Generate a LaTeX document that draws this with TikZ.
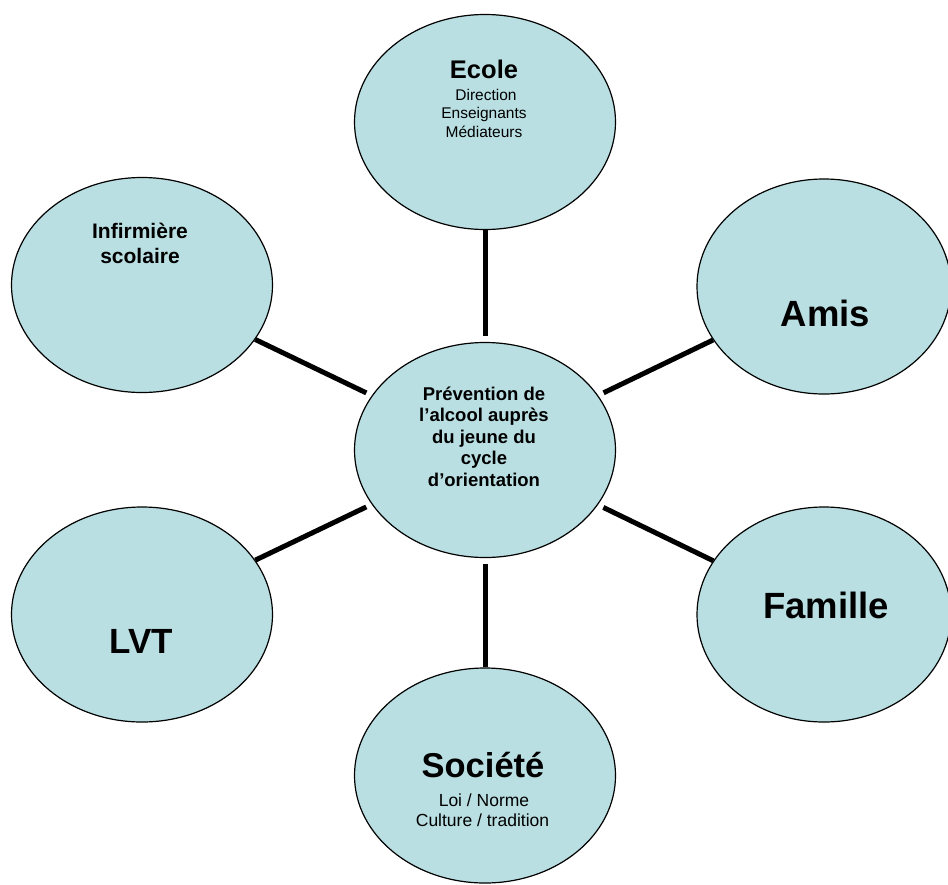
\documentclass[tikz,border=0pt]{standalone}
\usepackage{fontspec}
\setmainfont{Liberation Sans}
\usetikzlibrary{shapes.geometric}
\definecolor{bubble}{RGB}{185,223,227}
\tikzset{
  bub/.style={ellipse, draw=black, line width=1.2pt, fill=bubble, inner sep=0pt,
              minimum width=261pt, minimum height=215pt},
  bubr/.style={bub, minimum width=254pt},
  link/.style={line width=5pt, shorten >=6pt},
  txt/.style={inner sep=0pt, anchor=base, font=\bfseries},
  sub/.style={inner sep=0pt, anchor=base},
}
\newcommand{\fs}[1]{\fontsize{#1}{#1}\selectfont}
\begin{document}
\begin{tikzpicture}[x=1pt,y=-1pt]
\useasboundingbox (0,0) rectangle (948,884);
% bubbles
\node[bub] (center) at (485,450) {};
\node[bub] (ecole) at (485,122) {};
\node[bub] (inf) at (142,285) {};
\node[bubr] (amis) at (824,286.5) {};
\node[bub] (lvt) at (142,614.5) {};
\node[bubr] (famille) at (824,614.5) {};
\node[bub] (societe) at (485,775.5) {};
% connectors
\draw[link] (ecole) -- (center);
\draw[link] (inf) -- (center);
\draw[link] (amis) -- (center);
\draw[link] (lvt) -- (center);
\draw[link] (famille) -- (center);
\draw[link] (societe) -- (center);
% texts
\node[txt, font=\bfseries\fs{25.5}] (t-ecole) at (484,78) {Ecole};
\node[sub, font=\fs{15.5}] (t-dir) at (486,100) {Direction};
\node[sub, font=\fs{15.5}] (t-ens) at (484,118.5) {Enseignants};
\node[sub, font=\fs{15.5}] (t-med) at (484,137) {Médiateurs};

\node[txt, font=\bfseries\fs{21}] (t-inf1) at (140,238) {Infirmière};
\node[txt, font=\bfseries\fs{21}] (t-inf2) at (140,263.5) {scolaire};

\node[txt, font=\bfseries\fs{18.5}] (t-c1) at (484,400) {Prévention de};
\node[txt, font=\bfseries\fs{18.5}] (t-c2) at (484,421.5) {l’alcool auprès};
\node[txt, font=\bfseries\fs{18.5}] (t-c3) at (484,443) {du jeune du};
\node[txt, font=\bfseries\fs{18.5}] (t-c4) at (484,464.5) {cycle};
\node[txt, font=\bfseries\fs{18.5}] (t-c5) at (484,486) {d’orientation};

\node[txt, font=\bfseries\fs{36.5}] (t-amis) at (825.5,326.5) {Amis};
\node[txt, font=\bfseries\fs{36.5}] (t-fam) at (826,618.5) {Famille};
\node[txt, font=\bfseries\fs{35}] (t-lvt) at (141,653.5) {LVT};

\node[txt, font=\bfseries\fs{34.5}] (t-soc) at (483,777.5) {Société};
\node[sub, font=\fs{17.5}] (t-loi) at (484,806.5) {Loi / Norme};
\node[sub, font=\fs{17.5}] (t-cul) at (482.5,826.5) {Culture / tradition};
\end{tikzpicture}
\end{document}
